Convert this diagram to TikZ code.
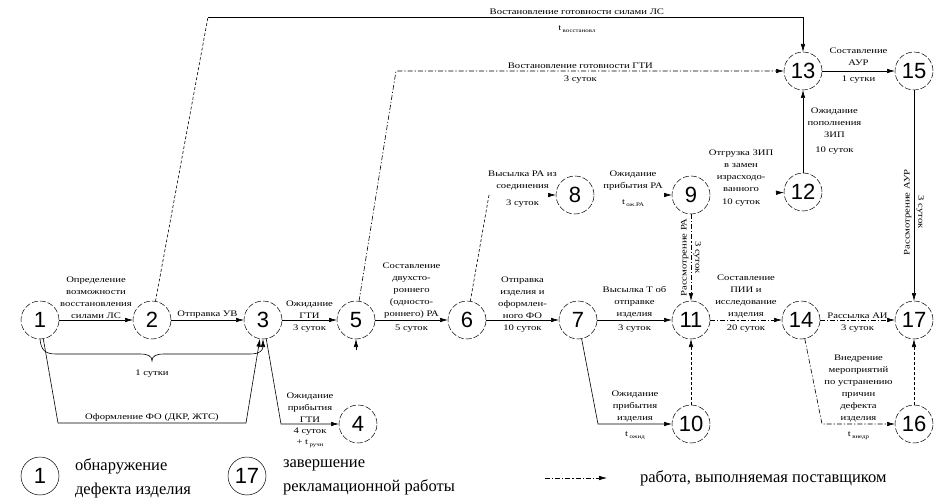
\documentclass[tikz,border=0pt]{standalone}
\usepackage{fontspec}
\setmainfont{Liberation Serif}
\newfontfamily\numfont{Liberation Sans}
\newfontfamily\lblfont[FakeStretch=1.25]{Liberation Serif}
\usetikzlibrary{calc,arrows.meta}
\newcommand{\tsb}[1]{t\,\raisebox{-0.6ex}{\fontsize{5.5}{5.5}\selectfont #1}}

\begin{document}
\begin{tikzpicture}[x=1pt,y=-1pt,every node/.style={outer sep=0pt}]

	\tikzstyle{event}=[circle,draw,line width=0.5pt,dash pattern=on 6pt off 2pt,minimum size=38pt,inner sep=0pt,font=\numfont\fontsize{22}{22}\selectfont]
	\tikzstyle{lbl}=[align=center,inner sep=1.5pt,font=\lblfont\fontsize{8.5}{12}\selectfont]
	\tikzstyle{work}=[line width=0.6pt,-{Latex[length=8pt,width=4.5pt]}]
	\tikzstyle{wait}=[work,dash pattern=on 3pt off 2pt]
	\tikzstyle{supplier}=[work,dash pattern=on 5pt off 2pt on 1.2pt off 2pt]
	\tikzstyle{legend}=[align=left,anchor=west,inner sep=0pt,font=\fontsize{16.5}{24}\selectfont]

	\useasboundingbox (0,0) rectangle (940,500);

	% events
	\node (n1) at (40,320) [event] {1};
	\node (n2) at (152,320) [event] {2};
	\node (n3) at (263,320) [event] {3};
	\node (n4) at (358,424) [event] {4};
	\node (n5) at (356,320) [event] {5};
	\node (n6) at (467,320) [event] {6};
	\node (n7) at (578,320) [event] {7};
	\node (n8) at (575,195) [event] {8};
	\node (n9) at (691,195) [event] {9};
	\node (n10) at (691,424) [event] {10};
	\node (n11) at (691,320) [event] {11};
	\node (n12) at (803,192) [event] {12};
	\node (n13) at (803,71) [event] {13};
	\node (n14) at (801,320) [event] {14};
	\node (n15) at (914,71) [event] {15};
	\node (n16) at (914,424) [event] {16};
	\node (n17) at (914,320) [event] {17};

	\coordinate (c2) at (208,17);
	\coordinate (c5) at (396,71);
	\coordinate (c6) at (489,195);
	\coordinate (b1) at (58,423);
	\coordinate (b2) at (246,423);
	\coordinate (m1) at (152,361);
	\coordinate (c34) at (281,424);
	\coordinate (c710) at (598,424);
	\coordinate (c1416) at (822,424);
	\coordinate (s5) at (356,350);

	% main chain
	\draw [work] (n1) -- (n2) node[lbl,midway,above] {Определение\\возможности\\восстановления\\силами ЛС};
	\draw [work] (n2) -- (n3) node[lbl,midway,above] {Отправка УВ};
	\draw [work] (n3) -- (n5) node[lbl,midway,above] {Ожидание\\ГТИ} node[lbl,midway,below=3pt] {3 суток};
	\draw [work] (n5) -- (n6) node[lbl,midway,above] {Составление\\двухсто-\\роннего\\(односто-\\роннего) РА} node[lbl,midway,below=3pt] {5 суток};
	\draw [work] (n6) -- (n7) node[lbl,midway,above] {Отправка\\изделия и\\оформлен-\\ного ФО} node[lbl,midway,below=3pt] {10 суток};
	\draw [work] (n7) -- (n11) node[lbl,midway,above] {Высылка Т об\\отправке\\изделия} node[lbl,midway,below=3pt] {3 суток};
	\draw [supplier] (n11) -- (n14) node[lbl,midway,above] {Составление\\ПИИ и\\исследование\\изделия} node[lbl,midway,below=3pt] {20 суток};
	\draw [supplier] (n14) -- (n17) node[lbl,midway,above] {Рассылка АИ} node[lbl,midway,below=3pt] {3 суток};

	% 1 -> 3
	\draw [work] (n1.south) .. controls (41,350) and (45,354) .. (56,354) -- (140,354) .. controls (148,354) and (152,356) .. (m1) .. controls (152,356) and (156,354) .. (164,354) -- (250,354) .. controls (260,354) and (263,350) .. (n3.south);
	\node (t13) at (152,374) [lbl] {1 сутки};
	\draw [work] (n1) -- (b1) -- (b2) node[lbl,midway,above] {Оформление ФО (ДКР, ЖТС)} -- (n3);

	% lower branches
	\draw [work] (n3) -- (c34) -- (n4) node[lbl,midway,above] {Ожидание\\прибытия\\ГТИ} node[lbl,midway,below=2pt,font=\lblfont\fontsize{8.5}{11}\selectfont] {4 суток\\+ \tsb{ручн}};
	\draw [work] (n7) -- (c710) -- (n10) node[lbl,midway,above] {Ожидание\\прибытия\\изделия} node[lbl,midway,below=6pt] {\tsb{ожид}};
	\draw [supplier] (n14) -- (c1416) -- (n16) node[lbl,midway,above] {Внедрение\\мероприятий\\по устранению\\причин\\дефекта\\изделия} node[lbl,midway,below=6pt] {\tsb{внедр}};
	\draw [wait] (n10) -- (n11);
	\draw [wait] (n16) -- (n17);
	\draw [work] (s5) -- (n5);

	% upper branches
	\draw [wait,-] (n6) -- (c6);
	\draw [wait,shorten <=59pt] (c6) -- (n8) node[lbl,midway,above=3pt] {Высылка РА из\\соединения} node[lbl,midway,below=3pt] {3 суток};
	\draw [work,shorten <=70pt] (n8) -- (n9) node[lbl,midway,above=3pt] {Ожидание\\прибытия РА} node[lbl,midway,below=3pt] {\tsb{ож.РА}};
	\draw [work,shorten <=66pt] (n9) -- (n12) node[lbl,pos=0.42,above=1pt] {Отгрузка ЗИП\\в замен\\израсходо-\\ванного} node[lbl,pos=0.42,below=4pt] {10 суток};
	\draw [supplier] (n9) -- (n11) node[lbl,midway,rotate=90,above=1pt] {Рассмотрение РА} node[lbl,pos=0.5,rotate=-90,above=1pt] {3 суток};
	\draw [work] (n12) -- (n13) node[lbl,midway,right=3pt] {Ожидание\\пополнения\\ЗИП\\[3pt]10 суток};
	\draw [work] (n13) -- (n15) node[lbl,midway,above,yshift=4pt] {Составление\\АУР} node[lbl,midway,below=3pt] {1 сутки};
	\draw [work] (n15) -- (n17) node[lbl,pos=0.58,rotate=90,above=1pt] {Рассмотрение АУР} node[lbl,pos=0.58,rotate=-90,above=1pt] {3 суток};

	% restoring readiness
	\draw [wait,-] (n2) -- (c2);
	\draw [work] (c2) -| (n13) node[lbl,pos=0.31,above=1pt] {Востановление готовности силами ЛС} node[lbl,pos=0.31,below=7pt] {\tsb{восстановл}};
	\draw [supplier] (n5) -- (c5) -- (n13) node[lbl,pos=0.475,above=1pt] {Востановление готовности ГТИ} node[lbl,pos=0.475,below=3pt] {3 суток};

	% legend
	\node (k1) at (40,476) [event,solid] {1};
	\node (k1t) at (75,478) [legend] {обнаружение\\дефекта изделия};
	\node (k17) at (247,476) [event,solid] {17};
	\node (k17t) at (283,477) [legend] {завершение\\рекламационной работы};
	\coordinate (k2a) at (545,478);
	\coordinate (k2b) at (607,478);
	\draw [supplier] (k2a) -- (k2b);
	\node (k2t) at (640,478) [legend] {работа, выполняемая поставщиком};

\end{tikzpicture}
\end{document}
